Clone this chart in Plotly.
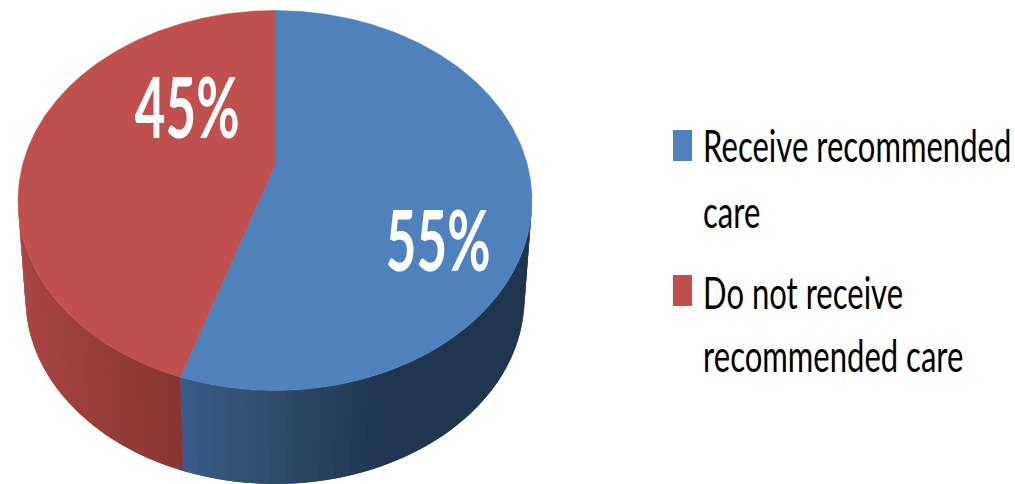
import numpy as np
import plotly.graph_objects as go

# Chart data
categories = ["Receive recommended care", "Do not receive recommended care"]
shares = [55, 45]
legend_lines = [["Receive recommended", "care"], ["Do not receive", "recommended care"]]
slice_labels = ["55%", "45%"]

# Styling
top_colors = ["#4F81BD", "#C0504D"]
side_stops = [
    [(183, (56, 93, 138)), (300, (43, 70, 99)), (385, (31, 53, 80)), (540, (31, 53, 80))],
    [(15, (170, 72, 68)), (100, (152, 62, 58)), (183, (136, 53, 51))],
]
W, H = 1015, 484
TOP = dict(cx=275.0, cy=200.5, rx=257.0, ry=190.0)
BOTTOM = dict(cx=275.0, cy=298.0, rx=249.5, ry=186.0)
APEX_SHIFT = -0.184  # perspective shift of the disc centre, in units of ry
FONT = "Lato"
LABEL_SQUEEZE = 0.63
LEGEND_SQUEEZE = 0.69


def rim_param(theta):
    """Ellipse parameter (clockwise from the top) of a disc angle seen in perspective."""
    u, v = np.sin(theta), -np.cos(theta)
    d = 1 + v * APEX_SHIFT
    return np.arctan2(u * np.sqrt(1 - APEX_SHIFT**2) / d, -(v + APEX_SHIFT) / d)


def rim(t, e):
    return e["cx"] + e["rx"] * np.sin(t), e["cy"] - e["ry"] * np.cos(t)


def side_color(stops, x):
    xs = [s[0] for s in stops]
    rgb = [np.interp(x, xs, [s[1][i] for s in stops]) for i in range(3)]
    return "rgb({:.0f},{:.0f},{:.0f})".format(*rgb)


fig = go.Figure()
edges = 2 * np.pi * np.cumsum([0] + shares) / sum(shares)

# Wall of the cylinder: strips shaded along x, each overlapping the next to hide seams
for i in range(len(shares)):
    a = rim_param(edges[i]) % (2 * np.pi)
    b = rim_param(edges[i + 1]) % (2 * np.pi) or 2 * np.pi
    lo, hi = max(a, np.pi / 2), min(b, 3 * np.pi / 2)
    steps = np.linspace(lo, hi, 61)
    order = range(len(steps) - 1) if i == 0 else range(len(steps) - 2, -1, -1)
    for j in order:
        t0 = steps[max(j - 1, 0)] if i == 1 else steps[j]
        t1 = steps[j + 1] if i == 1 else steps[min(j + 2, len(steps) - 1)]
        tx0, ty0 = rim(t0, TOP)
        tx1, ty1 = rim(t1, TOP)
        bx1, by1 = rim(t1, BOTTOM)
        bx0, by0 = rim(t0, BOTTOM)
        bxm = rim((steps[j] + steps[j + 1]) / 2, BOTTOM)[0]
        color = side_color(side_stops[i], bxm)
        fig.add_trace(go.Scatter(
            x=[tx0, tx1, bx1, bx0, tx0], y=[ty0, ty1, by1, by0, ty0],
            mode="none", fill="toself", fillcolor=color,
            hoverinfo="skip", showlegend=False,
        ))

# Top face of each slice
apex_y = TOP["cy"] + APEX_SHIFT * TOP["ry"]
for i, name in enumerate(categories):
    thetas = np.linspace(edges[i], edges[i + 1], 240)
    xs, ys = rim(rim_param(thetas), TOP)
    fig.add_trace(go.Scatter(
        x=np.r_[TOP["cx"], xs, TOP["cx"]], y=np.r_[apex_y, ys, apex_y],
        mode="lines", fill="toself", fillcolor=top_colors[i],
        line=dict(color=top_colors[i], width=0.5), name=name, showlegend=False,
    ))

# Percentage labels on the slices
label_xy = [(438, 238), (187, 105)]
annotations = [
    dict(x=x, y=y, text=t, showarrow=False, xanchor="center", yanchor="middle",
         font=dict(family=FONT, size=84, color="white", weight="bold"))
    for (x, y), t in zip(label_xy, slice_labels)
]

# Legend, laid out by hand so the keys and wrapped lines sit where they should
legend_key_y = [(130, 161), (275, 306)]
legend_line_y = [[145, 211], [292, 355]]
shapes = []
for i in range(len(categories)):
    y0, y1 = legend_key_y[i]
    shapes.append(dict(type="rect", xref="x", yref="y", x0=673, x1=692, y0=y0, y1=y1,
                       fillcolor=top_colors[i], line=dict(width=0), layer="above"))
    for text, y in zip(legend_lines[i], legend_line_y[i]):
        annotations.append(dict(x=701, y=y, text=text, showarrow=False, xanchor="left",
                                yanchor="middle", font=dict(family=FONT, size=45, color="black")))

axis = dict(visible=False, fixedrange=True)
fig.update_layout(
    width=W, height=H, margin=dict(l=0, r=0, t=0, b=0), showlegend=False,
    paper_bgcolor="white", plot_bgcolor="white",
    xaxis=dict(range=[0, W], **axis), yaxis=dict(range=[H, 0], **axis),
    annotations=annotations, shapes=shapes,
)

# The lettering is condensed, so squeeze each annotation horizontally once drawn
squeeze = """
var n = %d;
document.querySelectorAll('text.annotation-text').forEach(function (el, i) {
  el.style.transformBox = 'fill-box';
  el.style.transformOrigin = i < n ? 'center center' : 'left center';
  el.style.transform = 'scaleX(' + (i < n ? %f : %f) + ')';
});
""" % (len(slice_labels), LABEL_SQUEEZE, LEGEND_SQUEEZE)
fig.write_html("out.html", config={"displayModeBar": False}, post_script=squeeze)
